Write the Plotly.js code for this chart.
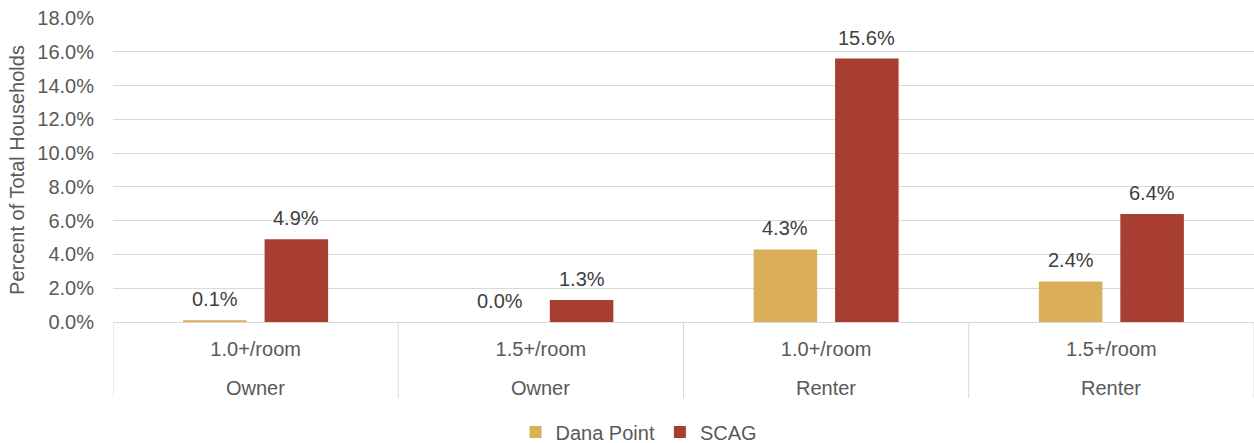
<!DOCTYPE html>
<html>
<head>
<meta charset="utf-8">
<script src="https://cdn.plot.ly/plotly-3.0.1.min.js"></script>
<style>html,body{margin:0;padding:0;background:#fff;}#chart{width:1254px;height:443px;}</style>
</head>
<body>
<div id="chart"></div>
<script>
const innerLabels = ["1.0+/room", "1.5+/room", "1.0+/room", "1.5+/room"];
const outerLabels = ["Owner", "Owner", "Renter", "Renter"];
const seriesNames = ["Dana Point", "SCAG"];
const danaPoint = [0.001, 0.000, 0.043, 0.024];
const scag = [0.049, 0.013, 0.156, 0.064];
const yTicks = [0, 0.02, 0.04, 0.06, 0.08, 0.10, 0.12, 0.14, 0.16, 0.18];

const colors = ["#DBAE5A", "#A83D32"];
const fontFam = "Liberation Sans, Arial, sans-serif";
const txtColor = "#595959";
const fs = 20;
const bargap = 0.429;
const idx = innerLabels.map((_, i) => i);

const traces = [danaPoint, scag].map((vals, s) => ({
  type: "bar",
  name: seriesNames[s],
  x: idx,
  y: vals,
  marker: {color: colors[s]},
  hoverinfo: "skip"
}));

const annotations = [];
const off = (1 - bargap) / 4;
[danaPoint, scag].forEach((vals, s) => {
  vals.forEach((v, i) => {
    annotations.push({
      x: i + (s === 0 ? -off : off), y: v, xref: "x", yref: "y",
      text: (v * 100).toFixed(1) + "%", showarrow: false,
      yanchor: "bottom", yshift: 8,
      font: {family: fontFam, size: fs, color: "#404040"}
    });
  });
});
outerLabels.forEach((t, i) => {
  annotations.push({
    x: i, y: -0.217, xref: "x", yref: "paper", text: t, showarrow: false,
    yanchor: "middle", font: {family: fontFam, size: fs, color: txtColor}
  });
});

const shapes = [];
for (let i = 0; i <= innerLabels.length; i++) {
  shapes.push({
    type: "line", xref: "x", yref: "paper", x0: i - 0.5, x1: i - 0.5,
    y0: 0, y1: -0.25, line: {color: "#D9D9D9", width: 1}
  });
}

const layout = {
  width: 1254, height: 443,
  margin: {l: 113, r: 0, t: 18, b: 121, autoexpand: false},
  paper_bgcolor: "#fff", plot_bgcolor: "#fff",
  font: {family: fontFam, size: fs, color: txtColor},
  bargap: bargap, bargroupgap: 0.22, barmode: "group",
  showlegend: true,
  legend: {orientation: "h", x: 0.461, xanchor: "center", yref: "container", y: 0.025, yanchor: "middle",
           itemwidth: 30, tracegroupgap: 0,
           font: {family: fontFam, size: fs, color: txtColor}},
  xaxis: {
    type: "linear", range: [-0.5, innerLabels.length - 0.5],
    tickvals: idx, ticktext: innerLabels, ticks: "", showgrid: false, zeroline: false,
    showline: true, linecolor: "#D9D9D9", linewidth: 1,
    ticklabelstandoff: 9,
    tickfont: {family: fontFam, size: fs, color: txtColor}
  },
  yaxis: {
    range: [0, 0.18], tickvals: yTicks, tickformat: ".1%",
    showgrid: true, gridcolor: "#D9D9D9", gridwidth: 1, zeroline: false,
    ticks: "", ticklabelstandoff: 18,
    tickfont: {family: fontFam, size: fs, color: txtColor},
    title: {text: "Percent of Total Households", standoff: 7,
            font: {family: fontFam, size: fs, color: txtColor}}
  },
  annotations: annotations,
  shapes: shapes
};

Plotly.newPlot("chart", traces, layout, {displayModeBar: false, staticPlot: true});
</script>
</body>
</html>
